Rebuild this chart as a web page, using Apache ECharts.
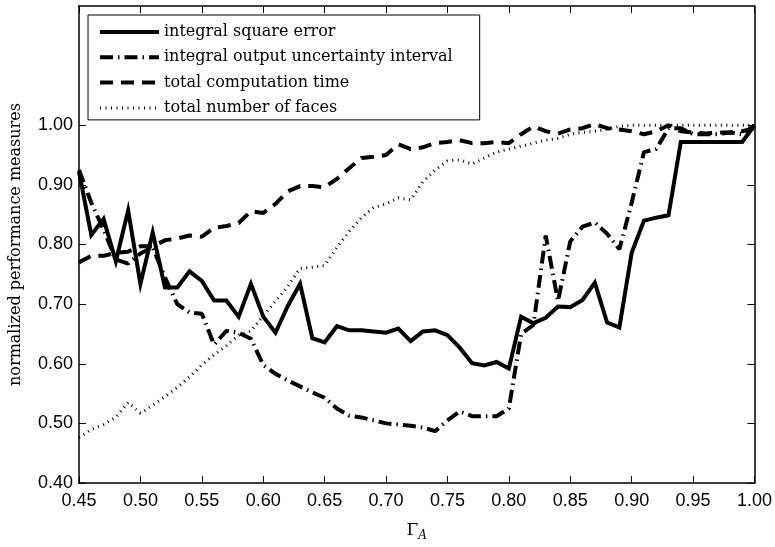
<!DOCTYPE html>
<html>
<head>
<meta charset="utf-8">
<script src="https://cdn.jsdelivr.net/npm/echarts@6/dist/echarts.min.js"></script>
<style>html,body{margin:0;padding:0;background:#fff;}#chart{width:775px;height:547px;}</style>
</head>
<body>
<div id="chart"></div>
<script>
var gammaA = [0.45,0.46,0.47,0.48,0.49,0.50,0.51,0.52,0.53,0.54,0.55,0.56,0.57,0.58,0.59,0.60,0.61,0.62,0.63,0.64,0.65,0.66,0.67,0.68,0.69,0.70,0.71,0.72,0.73,0.74,0.75,0.76,0.77,0.78,0.79,0.80,0.81,0.82,0.83,0.84,0.85,0.86,0.87,0.88,0.89,0.90,0.91,0.92,0.93,0.94,0.95,0.96,0.97,0.98,0.99,1.00];
var squareError = [0.922,0.816,0.843,0.772,0.857,0.734,0.820,0.728,0.728,0.755,0.739,0.706,0.706,0.679,0.734,0.679,0.652,0.697,0.734,0.643,0.636,0.663,0.656,0.656,0.654,0.652,0.659,0.638,0.654,0.656,0.648,0.627,0.601,0.597,0.603,0.592,0.679,0.668,0.677,0.696,0.695,0.707,0.736,0.669,0.661,0.786,0.840,0.845,0.849,0.972,0.972,0.972,0.972,0.972,0.972,1.000];
var uncertainty = [0.925,0.870,0.825,0.775,0.768,0.785,0.795,0.745,0.700,0.686,0.684,0.632,0.655,0.652,0.642,0.598,0.583,0.572,0.562,0.552,0.543,0.525,0.513,0.510,0.505,0.500,0.498,0.496,0.493,0.487,0.505,0.520,0.512,0.512,0.512,0.525,0.650,0.665,0.815,0.705,0.805,0.830,0.837,0.818,0.792,0.870,0.955,0.960,0.995,0.995,0.985,0.985,0.985,0.988,0.985,1.000];
var compTime = [0.770,0.781,0.781,0.786,0.788,0.797,0.797,0.807,0.810,0.815,0.813,0.828,0.831,0.836,0.856,0.853,0.868,0.889,0.898,0.898,0.896,0.910,0.928,0.945,0.947,0.950,0.968,0.960,0.963,0.970,0.972,0.975,0.970,0.970,0.972,0.970,0.985,0.998,0.990,0.986,0.993,0.995,1.002,0.995,0.993,0.990,0.985,0.990,1.000,0.990,0.988,0.986,0.988,0.988,0.990,0.995];
var numFaces = [0.476,0.490,0.498,0.510,0.535,0.517,0.530,0.545,0.560,0.578,0.598,0.615,0.630,0.648,0.655,0.680,0.705,0.730,0.760,0.762,0.765,0.795,0.822,0.845,0.862,0.868,0.878,0.875,0.905,0.925,0.940,0.942,0.935,0.945,0.955,0.960,0.965,0.970,0.975,0.978,0.985,0.988,0.990,0.993,0.998,1.000,1.000,1.000,1.000,1.000,1.000,1.000,1.000,1.000,1.000,1.000];
var yTicks = [0.40,0.50,0.60,0.70,0.80,0.90,1.00];
var seriesNames = ['integral square error','integral output uncertainty interval','total computation time','total number of faces'];

function pairs(ys){ return gammaA.map(function(x,i){ return [x, ys[i]]; }); }

var lineStyles = [
  {color:'#000', width:4, type:'solid'},
  {color:'#000', width:4, type:[13,5,1.5,5]},
  {color:'#000', width:4, type:[13,8]},
  {color:'#000', width:3, type:[1,4.5]}
];

var chart = echarts.init(document.getElementById('chart'), null, {renderer:'canvas'});
var tickFont = {fontFamily:'Liberation Sans, Arial, sans-serif', fontSize:18, color:'#000'};
var frame = {show:true, lineStyle:{color:'#000', width:1.5}};
var option = {
  animation:false,
  backgroundColor:'#fff',
  grid:{left:78, right:20, top:6, bottom:54, containLabel:false},
  legend:{
    left:88, top:15, orient:'vertical',
    data:seriesNames.map(function(n,i){ return {name:n, lineStyle:{width:lineStyles[i].width, type:lineStyles[i].type, color:'#000'}}; }),
    itemWidth:59, itemHeight:16, itemGap:9.3,
    padding:[9,27,4,10],
    borderColor:'#000', borderWidth:1, backgroundColor:'#fff',
    itemStyle:{opacity:0},
    textStyle:{fontFamily:'DejaVu Serif, serif', fontSize:16, color:'#000'},
    inactiveColor:'#000'
  },
  xAxis:[{
    type:'value', min:0.45, max:1.0, interval:0.05, position:'bottom',
    axisLine:frame, splitLine:{show:false},
    axisTick:{inside:true, length:7, lineStyle:{color:'#000', width:1}},
    axisLabel:Object.assign({margin:9, formatter:function(v){return v.toFixed(2);}}, tickFont),
    name:'{g|Γ}{s|A}', nameLocation:'middle', nameGap:37,
    nameTextStyle:{rich:{
      g:{fontFamily:'DejaVu Serif, serif', fontSize:17, color:'#000'},
      s:{fontFamily:'DejaVu Serif, serif', fontStyle:'italic', fontSize:12, color:'#000', padding:[10,0,0,0]}
    }}
  },{
    type:'value', min:0.45, max:1.0, interval:0.05, position:'top',
    axisLine:frame, splitLine:{show:false},
    axisTick:{inside:true, length:7, lineStyle:{color:'#000', width:1}},
    axisLabel:{show:false}
  }],
  yAxis:[{
    type:'value', min:0.4, max:1.2, position:'left',
    axisLine:frame, splitLine:{show:false},
    axisTick:{inside:true, length:7, customValues:yTicks, lineStyle:{color:'#000', width:1}},
    axisLabel:Object.assign({margin:6, customValues:yTicks, formatter:function(v){return v.toFixed(2);}}, tickFont),
    name:'normalized performance measures', nameLocation:'middle', nameRotate:90, nameGap:55,
    nameTextStyle:{fontFamily:'DejaVu Serif, serif', fontSize:16, color:'#000'}
  },{
    type:'value', min:0.4, max:1.2, position:'right',
    axisLine:frame, splitLine:{show:false},
    axisTick:{inside:true, length:7, customValues:yTicks, lineStyle:{color:'#000', width:1}},
    axisLabel:{show:false}
  }],
  series:[
    {name:seriesNames[0], type:'line', data:pairs(squareError), symbol:'none', xAxisIndex:0, yAxisIndex:0,
     lineStyle:Object.assign({join:'miter'}, lineStyles[0]), itemStyle:{color:'#000'}},
    {name:seriesNames[1], type:'line', data:pairs(uncertainty), symbol:'none', xAxisIndex:0, yAxisIndex:0,
     lineStyle:lineStyles[1], itemStyle:{color:'#000'}},
    {name:seriesNames[2], type:'line', data:pairs(compTime), symbol:'none', xAxisIndex:0, yAxisIndex:0,
     lineStyle:lineStyles[2], itemStyle:{color:'#000'}},
    {name:seriesNames[3], type:'line', data:pairs(numFaces), symbol:'none', xAxisIndex:0, yAxisIndex:0,
     lineStyle:lineStyles[3], itemStyle:{color:'#000'}}
  ]
};
chart.setOption(option);
</script>
</body>
</html>
